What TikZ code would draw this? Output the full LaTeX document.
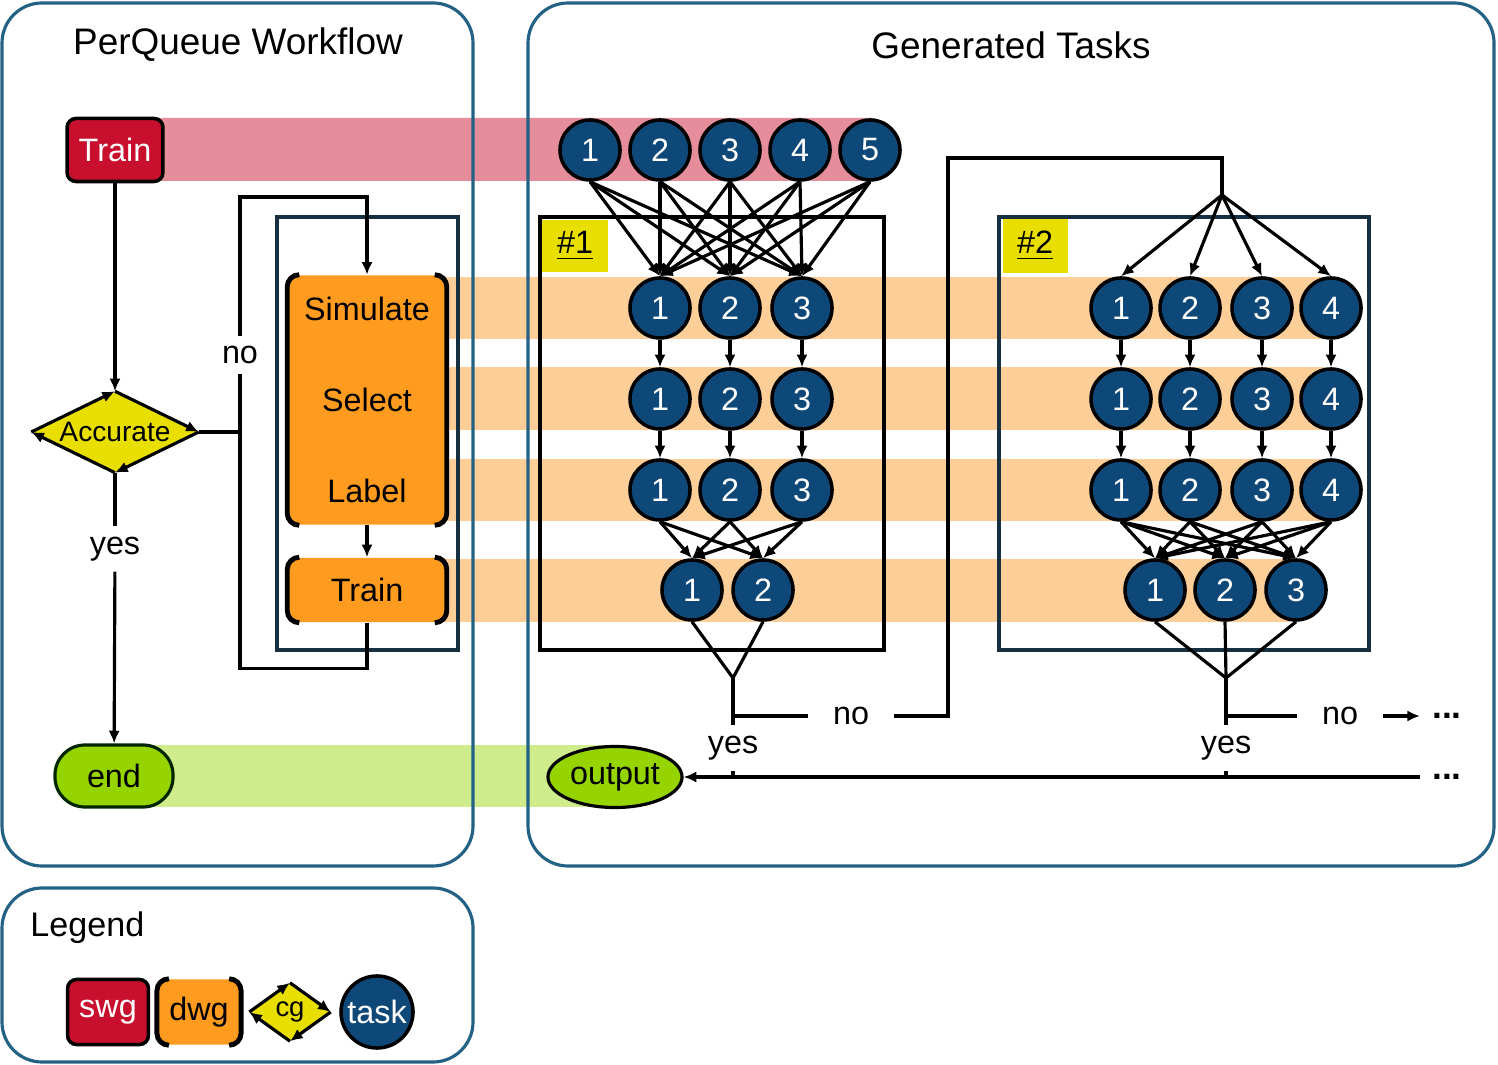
\documentclass[tikz,border=0pt]{standalone}
\usepackage{fontspec}
\setmainfont{Liberation Sans}
\usepackage{xcolor}
\usepackage{tikz}
\usetikzlibrary{shapes,arrows,arrows.meta,positioning}

\definecolor{panelblue}{RGB}{36,98,133}
\definecolor{boxnavy}{RGB}{22,48,66}
\definecolor{swgred}{RGB}{200,16,46}
\definecolor{swgband}{RGB}{229,141,155}
\definecolor{dwgorange}{RGB}{255,155,30}
\definecolor{dwgband}{RGB}{253,206,152}
\definecolor{cgyellow}{RGB}{232,222,0}
\definecolor{taskblue}{RGB}{14,72,120}
\definecolor{endgreen}{RGB}{150,212,0}
\definecolor{endband}{RGB}{206,236,140}

\begin{document}
\begin{tikzpicture}[x=0.01cm, y=-0.01cm,
    >={Latex[length=3.6pt,width=3.2pt]},
    every node/.style={font=\fontsize{9.2pt}{11pt}\selectfont},
    link/.style={line width=0.9pt},
    panel/.style={draw=panelblue, line width=0.9pt, rounded corners=0.4cm},
    task/.style={circle, draw=black, line width=1pt, fill=taskblue, text=white, minimum size=0.6cm, inner sep=0pt},
    swg/.style={rectangle, rounded corners=0.09cm, draw=black, line width=1pt, fill=swgred, text=white},
    dwg/.style={rectangle, rounded corners=0.1cm, fill=dwgorange},
    cg/.style={diamond, fill=cgyellow, inner sep=0pt},
    endnode/.style={rectangle, rounded corners=0.3cm, draw=black!85!green, line width=0.9pt, fill=endgreen, minimum width=1.18cm, minimum height=0.62cm},
    bracketline/.style={line width=1.4pt, rounded corners=0.12cm},
    gap/.style={inner xsep=7pt, inner ysep=2.8pt},
    tag/.style={fill=cgyellow, minimum width=0.65cm, minimum height=0.52cm},
    dots/.style={font=\fontsize{10pt}{11pt}\selectfont\bfseries}]
    \useasboundingbox (0,0) rectangle (1498,1065);

    % Bands behind the steps
    \fill[swgband, rounded corners=0.1cm] (115,118) rectangle (882,181);
    \foreach \ya/\yb/\xe in {277/339/1325, 367/430/1325, 459/521/1325, 559/622/1290}
        \fill[dwgband] (440,\ya) rectangle (\xe,\yb);
    \fill[endband] (115,745) rectangle (615,807);

    % Panels
    \draw[panel] (2,3) rectangle (473,866);
    \draw[panel] (528,3) rectangle (1494,866);
    \draw[panel] (2,888) rectangle (473,1062);
    \node[font=\fontsize{10.5pt}{12pt}\selectfont] (titleW) at (238,45) {PerQueue Workflow};
    \node[font=\fontsize{10.5pt}{12pt}\selectfont] (titleT) at (1011,45) {Generated Tasks};
    \node[anchor=west, font=\fontsize{9.7pt}{12pt}\selectfont] (titleL) at (18,928) {Legend};

    % Boxes
    \draw[boxnavy, line width=1pt] (277,217) rectangle (458,650);
    \draw[black, line width=1pt] (540,217) rectangle (884,650);
    \draw[boxnavy, line width=1pt] (999,217) rectangle (1369,650);
    \node[tag] (tag1) at (575,246) {\underline{\#1}};
    \node[tag] (tag2) at (1035,246) {\underline{\#2}};

    % Workflow
    \node[swg, minimum width=0.91cm, minimum height=0.63cm] (trainS) at (115,150) {Train};
    \node[cg, shape aspect=2, minimum width=1.66cm, minimum height=0.8cm, font=\fontsize{8pt}{9pt}\selectfont] (acc) at (115,432) {Accurate};
    \node[dwg, minimum width=1.58cm, minimum height=2.49cm, align=center, font=\fontsize{9.2pt}{0.91cm}\selectfont] (simB) at (367,400) {Simulate\\Select\\Label};
    \node[dwg, minimum width=1.58cm, minimum height=0.64cm] (trainD) at (367,590) {Train};
    \node[endnode] (endN) at (114,776) {end};
    \node[gap] (noL) at (240,355) {no};
    \node[gap] (yesL) at (115,549) {yes};

    \draw[link,->] (trainS) -- (acc);
    \draw[link] (acc) -- (yesL);
    \draw[link,->] (yesL) -- (endN);
    \draw[link] (acc.east) -- (acc.east -| noL);
    \draw[link] (trainD.south) -- ++(0,46) -| (noL);
    \coordinate (loopTop) at (367,197);
    \draw[link,->] (noL) |- (loopTop) -- (simB);
    \draw[link,->] (simB) -- (trainD);

    % Tasks
    \foreach \i/\x in {1/590,2/660,3/730,4/800,5/870}
        \node[task] (t\i) at (\x,150) {\i};
    \foreach \r/\y in {1/308,2/399,3/490} {
        \foreach \c/\x in {1/660,2/730,3/802} {
            \node[task] (a\r\c) at (\x,\y) {\c};
        }
        \foreach \c/\x in {1/1121,2/1190,3/1262,4/1331} {
            \node[task] (b\r\c) at (\x,\y) {\c};
        }
    }
    \foreach \c/\x in {1/692,2/763}
        \node[task] (a4\c) at (\x,590) {\c};
    \foreach \c/\x in {1/1155,2/1225,3/1296}
        \node[task] (b4\c) at (\x,590) {\c};

    % Task #1
    \foreach \i in {1,...,5} {
        \foreach \c in {1,2,3}
            \draw[link,->] (t\i.south) -- (a1\c.north);
    }
    \foreach \c in {1,2,3} {
        \draw[link,->] (a1\c) -- (a2\c);
        \draw[link,->] (a2\c) -- (a3\c);
        \foreach \d in {1,2}
            \draw[link,->] (a3\c.south) -- (a4\d.north);
    }
    \coordinate (m1) at (733,678);
    \draw[link] (a41.south) -- (m1) -- (a42.south);
    \node[gap] (yes1) at (733,748) {yes};
    \node[gap] (no1) at (851,716) {no};
    \draw[link] (m1) -- (yes1);
    \draw[link] (m1 |- no1) -- (no1);
    \coordinate (up1) at (948,158);
    \coordinate (fan2) at (1222,195);
    \draw[link] (no1) -| (up1) -| (fan2);

    % Task #2
    \foreach \c in {1,...,4} {
        \draw[link,->] (fan2) -- (b1\c.north);
        \draw[link,->] (b1\c) -- (b2\c);
        \draw[link,->] (b2\c) -- (b3\c);
        \foreach \d in {1,2,3}
            \draw[link,->] (b3\c.south) -- (b4\d.north);
    }
    \coordinate (m2) at (1226,678);
    \foreach \d in {1,2,3}
        \draw[link] (b4\d.south) -- (m2);
    \node[gap] (yes2) at (1226,748) {yes};
    \node[gap] (no2) at (1340,716) {no};
    \node[dots] (dotsN) at (1447,716) {...};
    \draw[link] (m2) -- (yes2);
    \draw[link] (m2 |- no2) -- (no2);
    \draw[link,->] (no2) -- (dotsN);

    % Output
    \node[ellipse, draw=black, line width=0.9pt, fill=endgreen, minimum width=1.34cm, minimum height=0.61cm, inner sep=0pt] (output) at (615,777) {output};
    \node[dots] (dotsY) at (1447,777) {...};
    \draw[link,->] (dotsY) -- (output);
    \draw[link] (yes1) -- (yes1 |- output);
    \draw[link] (yes2) -- (yes2 |- output);

    % Legend
    \node[swg, minimum width=0.77cm, minimum height=0.65cm] (legS) at (108,1012) {swg};
    \node[dwg, minimum width=0.77cm, minimum height=0.65cm] (legD) at (199,1012) {dwg};
    \node[cg, shape aspect=1.4, minimum width=0.8cm, minimum height=0.57cm, font=\fontsize{7.8pt}{9pt}\selectfont] (legC) at (290,1012) {cg};
    \node[task, minimum size=0.72cm] (legT) at (377,1012) {task};

    % Brackets and cycle arrows
    \foreach \n in {simB,trainD,legD} {
        \draw[bracketline] ([xshift=0.12cm]\n.north west) -- (\n.north west) -- (\n.south west) -- ([xshift=0.12cm]\n.south west);
        \draw[bracketline] ([xshift=-0.12cm]\n.north east) -- (\n.north east) -- (\n.south east) -- ([xshift=-0.12cm]\n.south east);
    }
    \foreach \n in {acc,legC} {
        \draw[link,->] (\n.west) -- (\n.north);
        \draw[link,->] (\n.north) -- (\n.east);
        \draw[link,->] (\n.east) -- (\n.south);
        \draw[link,->] (\n.south) -- (\n.west);
    }
\end{tikzpicture}
\end{document}
